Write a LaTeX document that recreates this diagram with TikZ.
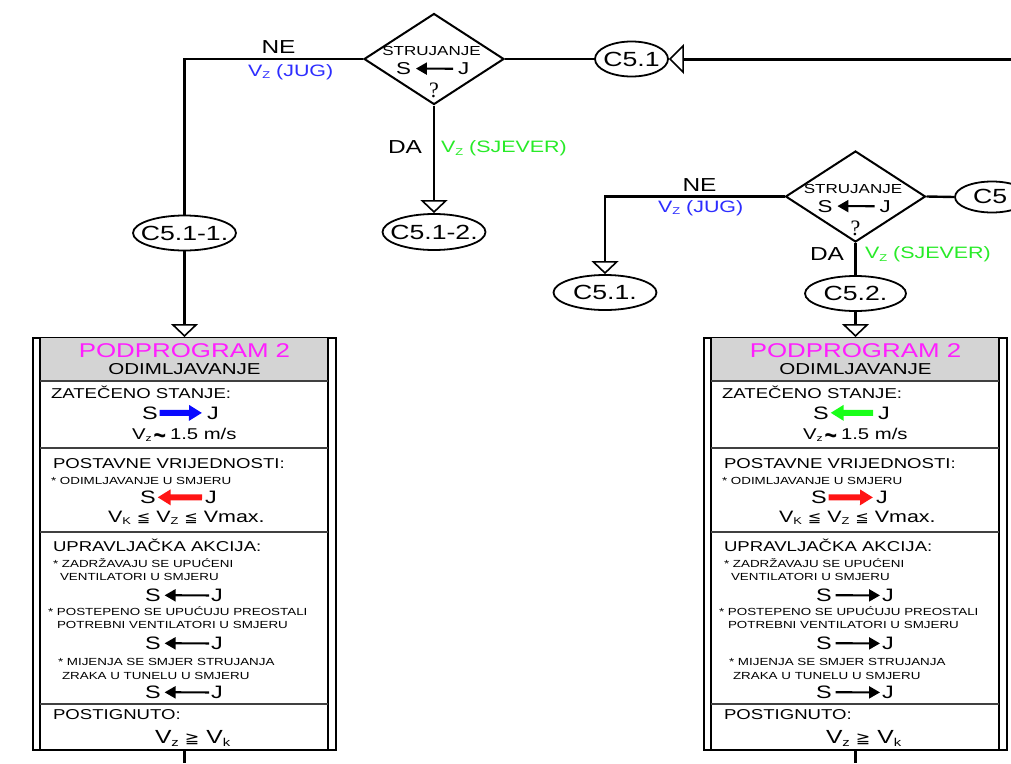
\documentclass[tikz,border=0pt]{standalone}
\usepackage{fontspec}
\setmainfont{Liberation Sans}[FakeStretch=1.3]
\newfontfamily\symf{DejaVu Sans}[FakeStretch=1.15]
\newfontfamily\serf{Liberation Serif}
\usetikzlibrary{shapes.geometric,arrows.meta}
\definecolor{mag}{RGB}{255,30,255}
\definecolor{blu}{RGB}{45,45,255}
\definecolor{grn}{RGB}{40,235,40}
\definecolor{arrgrn}{RGB}{25,255,25}
\definecolor{arrblu}{RGB}{10,10,255}
\definecolor{arrred}{RGB}{255,20,20}
\definecolor{hdr}{RGB}{212,212,212}
\newcommand\fs[1]{\fontsize{#1}{#1}\selectfont}
\newcommand\lo[1]{\raisebox{-0.18em}{\scalebox{0.6}{#1}}}
\newcommand\tld{\raisebox{-0.32em}{\scalebox{1.05}[1.7]{\bfseries\char"7E}}}
\tikzset{
 tx/.style={inner sep=0pt, outer sep=0pt},
 hd/.style={tx, anchor=base west, font=\fs{14.3}},
 sm/.style={tx, anchor=base west, font=\fs{10.3}},
 sj/.style={tx, anchor=base west, font=\fs{18}},
 conn/.style={line width=2.4pt},
 oarr/.style={-{Triangle[open, length=13pt, width=27pt, line width=1.6pt]}},
 dia/.style={diamond, draw, line width=2pt, minimum width=140pt, minimum height=91pt, inner sep=0pt},
 ell/.style={ellipse, draw, line width=1.8pt, inner sep=0pt, minimum width=103pt, minimum height=35pt,
   label={[font=\fs{20.5}, inner sep=0pt]center:#1}},
 colhead/.style={-{Triangle[length=13pt, width=15pt]}},
 coltail/.style={{Triangle[length=13pt, width=15pt]}-},
 blkhead/.style={-{Triangle[length=11pt, width=12pt]}},
 blktail/.style={{Triangle[length=11pt, width=12pt]}-},
}
% #1 name, #2 xshift, #3 colour of first arrow, #4 style of first arrow,
% #5 style of red arrow, #6 style of black arrows
\newcommand\PodBox[6]{%
\begin{scope}[xshift=#2pt]
 \node[draw, line width=2pt, minimum width=303pt, minimum height=412pt, inner sep=0pt, anchor=north] (#1) at (184.5,337) {};
 \fill[hdr] (40,338) rectangle (328,381);
 \draw[line width=1.6pt] (40,337) -- (40,749) (328,337) -- (328,749);
 \draw[line width=1.4pt, black!75] (40,381) -- (328,381) (40,448) -- (328,448) (40,532) -- (328,532) (40,704) -- (328,704);
 \node[tx, anchor=base, text=mag, font=\fs{19.9}] (#1-t) at (184.5,357.5) {PODPROGRAM 2};
 \node[tx, anchor=base, font=\fs{15.8}] (#1-s) at (184.5,374.5) {ODIMLJAVANJE};
 % zateceno stanje
 \node[hd] (#1-a) at (51,398) {ZATEČENO STANJE:};
 \node[sj] (#1-aS) at (142,419) {S};
 \node[sj] (#1-aJ) at (207,419) {J};
 \draw[#4, line width=6pt, draw=#3] ([xshift=2pt]#1-aS.east) -- ([xshift=-5pt]#1-aJ.west);
 \node[tx, anchor=base west, font=\fs{15.6}] (#1-av) at (132,439) {V\lo{z}\hspace{2pt}\tld\hspace{4pt}1.5 m/s};
 % postavne vrijednosti
 \node[hd] (#1-b) at (53,468) {POSTAVNE VRIJEDNOSTI:};
 \node[sm] (#1-b1) at (51,484) {* ODIMLJAVANJE U SMJERU};
 \node[sj] (#1-bS) at (140,503.5) {S};
 \node[sj] (#1-bJ) at (205,503.5) {J};
 \draw[#5, line width=6pt, draw=arrred] ([xshift=2pt]#1-bS.east) -- ([xshift=-3pt]#1-bJ.west);
 \node[tx, anchor=base west, font=\fs{16.5}] (#1-bv) at (108,522) {V\lo{K} {\symf\fs{14}≦} V\lo{Z} {\symf\fs{14}≦} Vmax.};
 % upravljacka akcija
 \node[hd] (#1-c) at (53,551) {UPRAVLJAČKA AKCIJA:};
 \node[sm] (#1-c1) at (53,567) {* ZADRŽAVAJU SE UPUĆENI};
 \node[sm] (#1-c2) at (60,580) {VENTILATORI U SMJERU};
 \node[sj] (#1-c1S) at (145,601.5) {S};
 \node[sj] (#1-c1J) at (211,601.5) {J};
 \draw[#6, line width=2.2pt] ([xshift=4pt]#1-c1S.east) -- ([xshift=-2pt]#1-c1J.west);
 \node[sm] (#1-c3) at (48,615) {* POSTEPENO SE UPUĆUJU PREOSTALI};
 \node[sm] (#1-c4) at (57,628) {POTREBNI VENTILATORI U SMJERU};
 \node[sj] (#1-c2S) at (145,649.5) {S};
 \node[sj] (#1-c2J) at (211,649.5) {J};
 \draw[#6, line width=2.2pt] ([xshift=4pt]#1-c2S.east) -- ([xshift=-2pt]#1-c2J.west);
 \node[sm] (#1-c5) at (58,665) {* MIJENJA SE SMJER STRUJANJA};
 \node[sm] (#1-c6) at (62,679) {ZRAKA U TUNELU U SMJERU};
 \node[sj] (#1-c3S) at (145,698.5) {S};
 \node[sj] (#1-c3J) at (211,698.5) {J};
 \draw[#6, line width=2.2pt] ([xshift=4pt]#1-c3S.east) -- ([xshift=-2pt]#1-c3J.west);
 % postignuto
 \node[hd] (#1-d) at (53,719) {POSTIGNUTO:};
 \node[tx, anchor=base west, font=\fs{19}] (#1-dv) at (155,743.5) {V\lo{z}\hspace{6pt}{\symf\fs{15}≧}\hspace{7pt}V\lo{k}};
\end{scope}}
% #1 name, #2 x, #3 y
\newcommand\Dia[3]{%
\begin{scope}[shift={(#2,#3)}]
 \node[dia] (#1) at (0,0) {};
 \node[tx, anchor=base, font=\fs{13.1}] (#1-t) at (-2.5,-3.5) {STRUJANJE};
 \node[tx, anchor=base west, font=\fs{17.2}] (#1-S) at (-38,15.5) {S};
 \node[tx, anchor=base west, font=\fs{17.2}] (#1-J) at (24,15.5) {J};
 \draw[blktail, line width=2.2pt] ([xshift=5pt]#1-S.east) -- ([xshift=-5pt]#1-J.west);
 \node[tx, anchor=base, font=\serf\fs{22}] (#1-q) at (0,38.5) {?};
\end{scope}}
\begin{document}
\begin{tikzpicture}[x=1pt, y=-1pt]
\useasboundingbox (0,0) rectangle (1011,763);
\fill[white] (0,0) rectangle (1011,763);
\clip (0,0) rectangle (1011,763);

\Dia{d1}{434}{59}
\Dia{d2}{855.5}{196.5}

\node[ell={C5.1-1.}] (c511) at (184.5,233) {};
\node[ell={C5.1-2.}, minimum height=36pt] (c512) at (434,232) {};
\node[ell={C5.1}, minimum width=73pt] (c51) at (631.5,59) {};
\node[ell={C5.1.}] (c51d) at (605,292.5) {};
\node[ell={C5.2.}, minimum width=101pt] (c52) at (855.5,293.5) {};
\node[ellipse, draw, line width=1.8pt, inner sep=0pt, minimum width=74pt, minimum height=31pt] (c5r) at (992,197) {};
\node[tx, anchor=base west, font=\fs{20.5}] (c5rt) at (973,203.5) {C5};

\PodBox{box1}{0}{arrblu}{colhead}{coltail}{blktail}
\PodBox{box2}{671}{arrgrn}{coltail}{colhead}{blkhead}

\coordinate (redge) at (1011,59);
\coordinate (bot1) at (184.5,763);
\coordinate (bot2) at (855.5,763);

% connectors
\draw[line width=3pt, -{Triangle[open, length=15pt, width=30pt, line width=1.6pt]}] (redge) -- (c51.east);
\draw[conn] (d1.east) -- (c51.west);
\draw[conn] (d1.west) -| (c511.north);
\draw[conn, oarr] (c511.south) -- (box1.north);
\draw[conn, oarr] (d1.south) -- (c512.north);
\draw[conn] (d2.east) -- (c5r.west);
\draw[conn, oarr] (d2.west) -| (c51d.north);
\draw[conn] (d2.south) -- (c52.north);
\draw[conn, oarr] (c52.south) -- (box2.north);
\draw[conn] (box1.south) -- (bot1);
\draw[conn] (box2.south) -- (bot2);

% branch labels
\node[tx, anchor=base, font=\fs{18.8}] (ne1) at (278.5,53) {NE};
\node[tx, anchor=base west, font=\fs{16.5}, text=blu] (jug1) at (248,76) {V\lo{Z} (JUG)};
\node[tx, anchor=base west, font=\fs{18.8}] (da1) at (388,153) {DA};
\node[tx, anchor=base west, font=\fs{16.5}, text=grn] (sj1) at (441,152.5) {V\lo{Z} (SJEVER)};
\node[tx, anchor=base, font=\fs{18.8}] (ne2) at (699.5,191) {NE};
\node[tx, anchor=base west, font=\fs{16.5}, text=blu] (jug2) at (658,212) {V\lo{Z} (JUG)};
\node[tx, anchor=base west, font=\fs{18.8}] (da2) at (810,260) {DA};
\node[tx, anchor=base west, font=\fs{16.5}, text=grn] (sj2) at (865,258.5) {V\lo{Z} (SJEVER)};
\end{tikzpicture}
\end{document}
